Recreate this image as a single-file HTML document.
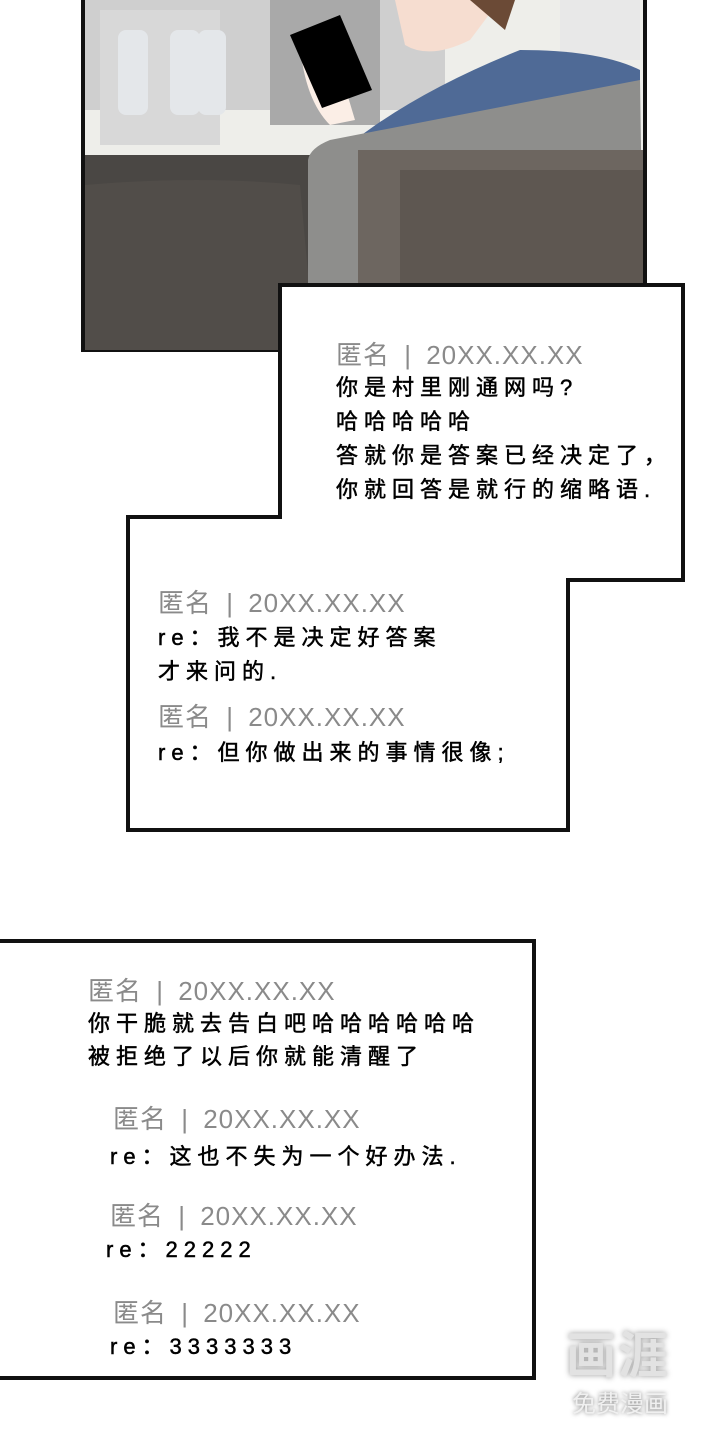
<!DOCTYPE html>
<html><head><meta charset="utf-8"><style>
body{margin:0;width:720px;height:1440px;background:#fff;position:relative;overflow:hidden;font-family:"Liberation Sans","Noto Sans CJK SC",sans-serif}
.t{position:absolute;white-space:nowrap;font-size:22px;line-height:26px;color:#000;letter-spacing:6px;-webkit-text-stroke:0.5px #000}
.h{position:absolute;white-space:nowrap;font-size:26px;line-height:28px;color:#8a8a8a;letter-spacing:1px;word-spacing:6px}
</style></head><body>
<svg width="720" height="1440" style="position:absolute;left:0;top:0">
<rect x="83" y="-5" width="562" height="355" fill="#eeeeea" stroke="#111" stroke-width="4"/>
<rect x="85" y="0" width="360" height="110" fill="#cfcfcf"/>
<rect x="270" y="0" width="110" height="125" fill="#a9a9a9"/>
<rect x="100" y="10" width="120" height="135" fill="#d8d8d8"/>
<rect x="118" y="30" width="30" height="85" fill="#e4e7ea" rx="8"/>
<rect x="170" y="30" width="30" height="85" fill="#e4e7ea" rx="8"/>
<rect x="198" y="30" width="28" height="85" fill="#e4e7ea" rx="8"/>
<rect x="560" y="0" width="80" height="60" fill="#e8e8e8"/>
<rect x="85" y="155" width="230" height="193" fill="#4a4744"/>
<path d="M85 185 Q200 175 300 185 L315 350 L85 350Z" fill="#514d49"/>
<path d="M355 140 Q420 90 520 50 Q600 50 640 70 L640 130 L355 140Z" fill="#4f6a96"/>
<path d="M395 0 L500 0 L470 40 Q430 60 405 45Z" fill="#f6ddd0"/>
<path d="M470 0 L515 0 L505 30Z" fill="#6b4a36"/>
<path d="M300 45 Q305 100 330 125 L355 120 L340 70Z" fill="#fbeee6"/>
<polygon points="290,35 340,15 372,90 322,108" fill="#000"/>
<path d="M308 160 Q310 148 330 140 L640 80 L643 285 L308 285Z" fill="#8e8e8c"/>
<rect x="358" y="150" width="285" height="135" fill="#6d6660"/>
<rect x="400" y="170" width="243" height="115" fill="#5e5751"/>
<polygon points="280,285 683,285 683,580 568,580 568,830 128,830 128,517 280,517" fill="#fff" stroke="#111" stroke-width="4"/>
<rect x="-10" y="941" width="544" height="437" fill="#fff" stroke="#111" stroke-width="4"/>
</svg>

<div class="h" style="left:336px;top:341px">匿名 | 20XX.XX.XX</div>
<div class="t" style="left:336px;top:375px">你是村里刚通网吗?</div>
<div class="t" style="left:336px;top:409px">哈哈哈哈哈</div>
<div class="t" style="left:336px;top:443px">答就你是答案已经决定了，</div>
<div class="t" style="left:336px;top:477px">你就回答是就行的缩略语.</div>

<div class="h" style="left:158px;top:589px">匿名 | 20XX.XX.XX</div>
<div class="t" style="left:158px;top:625px">re：我不是决定好答案</div>
<div class="t" style="left:158px;top:659px">才来问的.</div>
<div class="h" style="left:158px;top:703px">匿名 | 20XX.XX.XX</div>
<div class="t" style="left:158px;top:740px">re：但你做出来的事情很像;</div>

<div class="h" style="left:88px;top:977px">匿名 | 20XX.XX.XX</div>
<div class="t" style="left:88px;top:1011px">你干脆就去告白吧哈哈哈哈哈哈</div>
<div class="t" style="left:88px;top:1044px">被拒绝了以后你就能清醒了</div>
<div class="h" style="left:113px;top:1105px">匿名 | 20XX.XX.XX</div>
<div class="t" style="left:110px;top:1144px">re：这也不失为一个好办法.</div>
<div class="h" style="left:110px;top:1202px">匿名 | 20XX.XX.XX</div>
<div class="t" style="left:106px;top:1237px">re：22222</div>
<div class="h" style="left:113px;top:1299px">匿名 | 20XX.XX.XX</div>
<div class="t" style="left:110px;top:1334px">re：3333333</div>

<div style="position:absolute;left:566px;top:1316px;font-size:50px;font-weight:bold;color:#e2e2e2;letter-spacing:2px;text-shadow:0 0 6px #999">画涯</div>
<div style="position:absolute;left:572px;top:1384px;font-size:24px;color:#f0f0f0;text-shadow:0 0 4px #777">免费漫画</div>
</body></html>
